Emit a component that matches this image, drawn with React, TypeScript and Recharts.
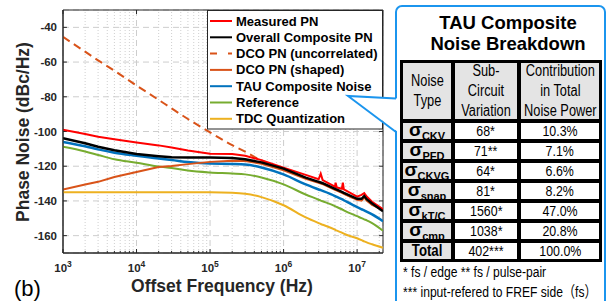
import React from 'react';
import { LineChart, Line, XAxis, YAxis, CartesianGrid, ReferenceLine, ReferenceArea } from 'recharts';

// offset frequency (Hz)
const freqs = [1e3, 2e3, 3e3, 5e3, 1e4, 2e4, 3e4, 5e4, 1e5, 2e5, 3e5, 5e5, 1e6, 2e6, 3e6, 3.2e6, 3.4e6, 5e6, 5.1e6, 5.3e6, 6.2e6, 6.4e6, 6.6e6, 1e7, 1.15e7, 1.25e7, 1.35e7, 1.6e7, 2.25e7];

const measuredPN = [-99, -101.5, -103, -104.5, -106.3, -108, -109.2, -111, -112.8, -113, -114, -116.5, -120.8, -125, -127.5, -124.3, -128, -131.8, -129.5, -132.2, -133, -129.5, -133.4, -137.5, -136.5, -135.5, -137.5, -140.5, -144.8];
const compositePN = [-103.8, -106.8, -108.8, -110.8, -113, -114.2, -114.8, -115, -115, -115.3, -116, -117.8, -121.4, -126.6, -129, -129.4, -129.8, -133, -133.2, -133.5, -134.8, -135.1, -135.4, -138.8, -138.8, -137.2, -139, -141.5, -146];
const dcoUncorr = [-45.5, -54, -59, -65, -73.5, -81.8, -86.7, -92.8, -100.5, -107.9, -111.6, -116.7, -121.8, -126.8, -129.3, -129.7, -130, -133.3, -133.5, -133.8, -135, -135.3, -135.6, -139, -139.5, -137.5, -139.5, -142, -145];
const dcoShaped = [-133.4, -130.5, -129, -126.2, -123.3, -120.5, -119.9, -118.8, -117.5, -116.8, -117, -118.6, -122.3, -127.2, -129.6, -130, -130.3, -133.6, -133.8, -134.1, -135.3, -135.6, -135.9, -139.4, -139.8, -138, -139.8, -142.3, -145.3];
const tauNoise = [-106, -108.5, -110.3, -112.2, -114, -115.6, -116.4, -117.6, -118.5, -118.7, -119, -120.7, -124.7, -130.5, -133.4, -133.8, -134.2, -137.2, -137.4, -137.7, -139, -139.3, -139.6, -143.6, -144.8, -145.5, -146.2, -147.8, -151.7];
const reference = [-108.8, -111.5, -113.5, -116, -118, -120.2, -121, -122.5, -123.6, -124.2, -124.7, -126.5, -130.5, -136.3, -139.3, -139.8, -140.2, -143, -143.2, -143.5, -144.8, -145.1, -145.4, -148.8, -149.9, -150.6, -151.2, -152.8, -157.2];
const tdcQuant = [-135, -135, -135, -135, -135, -135, -135, -135, -135, -135.3, -135.9, -137.8, -142.5, -149.5, -152.8, -153.3, -153.7, -156.6, -156.8, -157.1, -158.3, -158.6, -158.9, -161.5, -162.6, -163.3, -163.9, -165, -167];

const xTicks = [1e3, 1e4, 1e5, 1e6, 1e7];
const yTicks = [-160, -140, -120, -100, -80, -60, -40];
const X_MAX = 2.25e7;
const minorX: number[] = [];
[1e3, 1e4, 1e5, 1e6, 1e7].forEach((d) => {
  for (let k = 2; k <= 9; k++) if (d * k <= X_MAX) minorX.push(d * k);
});

const legendItems = [
  { name: 'Measured PN', color: '#ff0000', dash: undefined },
  { name: 'Overall Composite PN', color: '#000000', dash: undefined },
  { name: 'DCO PN (uncorrelated)', color: '#d95319', dash: '7 11' },
  { name: 'DCO PN (shaped)', color: '#d95319', dash: undefined },
  { name: 'TAU Composite Noise', color: '#0072bd', dash: undefined },
  { name: 'Reference', color: '#77ac30', dash: undefined },
  { name: 'TDC Quantization', color: '#edb120', dash: undefined },
];

// table
const tableHead = ['Noise\nType', 'Sub-\nCircuit\nVariation', 'Contribution\nin Total\nNoise Power'];
const noiseSubs = ['CKV', 'PFD', 'CKVG', 'snap', 'kT/C', 'cmp'];
const variations = ['68*', '71**', '64*', '81*', '1560*', '1038*', '402***'];
const contributions = ['10.3%', '7.1%', '6.6%', '8.2%', '47.0%', '20.8%', '100.0%'];
const footnotes = ['* fs / edge ** fs / pulse-pair', '*** input-refered to FREF side（fs）'];

const rows = freqs.map((f, i) => ({
  f,
  measured: measuredPN[i],
  composite: compositePN[i],
  uncorr: dcoUncorr[i],
  shaped: dcoShaped[i],
  tau: tauNoise[i],
  ref: reference[i],
  tdc: tdcQuant[i],
}));

const SANS = "'Liberation Sans', Arial, Helvetica, 'Noto Sans CJK SC', sans-serif";
const AX = '#262626';
const BLUE = '#1b95ee';

const XTick = (props: any) => {
  const { x, y, payload } = props;
  const exp = Math.round(Math.log10(payload.value));
  return (
    <text x={x} y={y} dy={11} textAnchor="middle" fill={AX} fontSize={11.5} fontWeight="bold" fontFamily={SANS}>
      10<tspan dy={-5} fontSize={8.5}>{exp}</tspan>
    </text>
  );
};

// narrow type, as in the original table
const Narrow = ({ children, origin = 'center', k = 0.8 }: { children: React.ReactNode; origin?: string; k?: number }) => (
  <span style={{ display: 'inline-block', transform: `scaleX(${k})`, transformOrigin: origin, whiteSpace: 'pre' }}>{children}</span>
);

const grayCell: React.CSSProperties = { background: '#e4e4e4', display: 'flex', alignItems: 'center', justifyContent: 'center', overflow: 'visible' };
const whiteCell: React.CSSProperties = { background: '#fff', display: 'flex', alignItems: 'center', justifyContent: 'center' };

export default function App() {
  return (
    <div style={{ position: 'absolute', left: 0, top: 0, width: 610, height: 301, background: '#fff', overflow: 'hidden', fontFamily: SANS }}>
      <div style={{ position: 'absolute', left: 0, top: 0 }}>
        <LineChart width={390} height={301} data={rows} margin={{ top: 10, right: 7, bottom: 0, left: 0 }}>
          <CartesianGrid stroke="#cdcdcd" strokeDasharray="6 4" />
          {minorX.map((v) => (
            <ReferenceLine key={v} x={v} stroke="#cfcfcf" strokeDasharray="1 2" />
          ))}
          <XAxis
            dataKey="f"
            type="number"
            scale="log"
            domain={[1000, X_MAX]}
            ticks={xTicks}
            allowDataOverflow
            height={48}
            tickLine={false}
            tickSize={0}
            tickMargin={8}
            stroke={AX}
            tick={<XTick />}
          />
          <YAxis
            type="number"
            domain={[-170, -30]}
            ticks={yTicks}
            allowDataOverflow
            width={63}
            tickLine={false}
            tickSize={4}
            tickMargin={2}
            stroke={AX}
            tick={{ fill: AX, fontSize: 11.5, fontWeight: 'bold', fontFamily: SANS }}
          />
          <ReferenceArea x1={1000} x2={X_MAX} y1={-170} y2={-30} fill="none" stroke={AX} strokeWidth={1} />
          {minorX.map((v) => (
            <ReferenceLine key={'bt' + v} segment={[{ x: v, y: -170 }, { x: v, y: -168.8 }]} stroke={AX} />
          ))}
          {xTicks.map((v) => (
            <ReferenceLine key={'mt' + v} segment={[{ x: v, y: -170 }, { x: v, y: -167.7 }]} stroke={AX} />
          ))}
          {xTicks.map((v) => (
            <ReferenceLine key={'tt' + v} segment={[{ x: v, y: -30 }, { x: v, y: -32.3 }]} stroke={AX} />
          ))}
          {yTicks.map((v) => (
            <ReferenceLine key={'yt' + v} segment={[{ x: 1000, y: v }, { x: 1130, y: v }]} stroke={AX} />
          ))}
          {yTicks.map((v) => (
            <ReferenceLine key={'yr' + v} segment={[{ x: X_MAX / 1.13, y: v }, { x: X_MAX, y: v }]} stroke={AX} />
          ))}
          <Line dataKey="tdc" type="monotone" stroke="#edb120" strokeWidth={2} dot={false} isAnimationActive={false} />
          <Line dataKey="ref" type="monotone" stroke="#77ac30" strokeWidth={2} dot={false} isAnimationActive={false} />
          <Line dataKey="tau" type="monotone" stroke="#0072bd" strokeWidth={2.5} dot={false} isAnimationActive={false} />
          <Line dataKey="uncorr" type="monotone" stroke="#d95319" strokeWidth={2} strokeDasharray="8 5" dot={false} isAnimationActive={false} />
          <Line dataKey="shaped" type="linear" stroke="#d95319" strokeWidth={2} dot={false} isAnimationActive={false} />
          <Line dataKey="measured" type="linear" stroke="#ff0000" strokeWidth={2} dot={false} isAnimationActive={false} />
          <Line dataKey="composite" type="linear" stroke="#000000" strokeWidth={2.5} dot={false} isAnimationActive={false} />
        </LineChart>
      </div>

      {/* breakdown table box */}
      <div style={{ position: 'absolute', left: 395, top: 5, width: 211, height: 320, border: `2px solid ${BLUE}`, borderRadius: 7, boxSizing: 'border-box', background: '#fff' }} />
      <div style={{ position: 'absolute', left: 405, top: 11.5, width: 206, textAlign: 'center', fontWeight: 'bold', fontSize: 18.5, lineHeight: '21px', color: '#000' }}>
        TAU Composite
        <br />
        Noise Breakdown
      </div>
      <div
        style={{
          position: 'absolute', left: 400, top: 59.5, width: 202, height: 202, boxSizing: 'border-box',
          background: '#000', padding: 3, display: 'grid', gap: 4,
          gridTemplateColumns: '48px 62px 78px', gridTemplateRows: '56px repeat(7, 16px)',
          color: '#000',
        }}
      >
        {tableHead.map((h) => (
          <div key={h} style={{ ...grayCell, fontSize: 16, lineHeight: '20px', textAlign: 'center' }}>
            <Narrow>{h}</Narrow>
          </div>
        ))}
        {variations.map((v, i) => (
          <React.Fragment key={i}>
            <div style={{ ...grayCell, fontWeight: 'bold', lineHeight: '16px' }}>
              {i < noiseSubs.length ? (
                <span style={{ whiteSpace: 'nowrap' }}>
                  <span style={{ fontSize: 19 }}>σ</span>
                  <span style={{ fontSize: 11, position: 'relative', top: 4 }}>{noiseSubs[i]}</span>
                </span>
              ) : (
                <Narrow><span style={{ fontSize: 16.5 }}>Total</span></Narrow>
              )}
            </div>
            <div style={{ ...whiteCell, fontSize: 15.5, lineHeight: '16px' }}><Narrow>{v}</Narrow></div>
            <div style={{ ...whiteCell, fontSize: 15.5, lineHeight: '16px' }}><Narrow>{contributions[i]}</Narrow></div>
          </React.Fragment>
        ))}
      </div>
      <div style={{ position: 'absolute', left: 403, top: 262, fontSize: 15.5, lineHeight: '20px', color: '#000' }}>
        {footnotes.map((t) => (
          <div key={t}><Narrow origin="left" k={0.78}>{t}</Narrow></div>
        ))}
      </div>

      <svg width={610} height={301} style={{ position: 'absolute', left: 0, top: 0, pointerEvents: 'none' }}>
        {/* legend */}
        <rect x={207.5} y={10.5} width={175} height={118.5} fill="#fff" stroke={AX} strokeWidth={1} />
        {legendItems.map((it, i) => {
          const cy = 21 + i * 16.3;
          return (
            <g key={it.name}>
              <line x1={210} x2={232} y1={cy} y2={cy} stroke={it.color} strokeWidth={2} strokeDasharray={it.dash} />
              <text x={236} y={cy} dominantBaseline="central" fontSize={13} fontWeight="bold" fill="#000" fontFamily={SANS}>{it.name}</text>
            </g>
          );
        })}
        {/* callout */}
        <polygon points="348,96 398,98.5 398,132" fill="#fff" />
        <polyline points="396,98.5 348,96 396,132" fill="none" stroke={BLUE} strokeWidth={2} />
        {/* axis labels */}
        <text transform="translate(23,132) rotate(-90)" textAnchor="middle" dominantBaseline="central" fontSize={17.5} fontWeight="bold" fill={AX} fontFamily={SANS}>
          Phase Noise (dBc/Hz)
        </text>
        <text x={222} y={292} textAnchor="middle" fontSize={17.5} fontWeight="bold" fill={AX} fontFamily={SANS}>
          Offset Frequency (Hz)
        </text>
        <text x={14} y={296} fontSize={22} fill="#000" fontFamily={SANS}>(b)</text>
      </svg>
    </div>
  );
}
